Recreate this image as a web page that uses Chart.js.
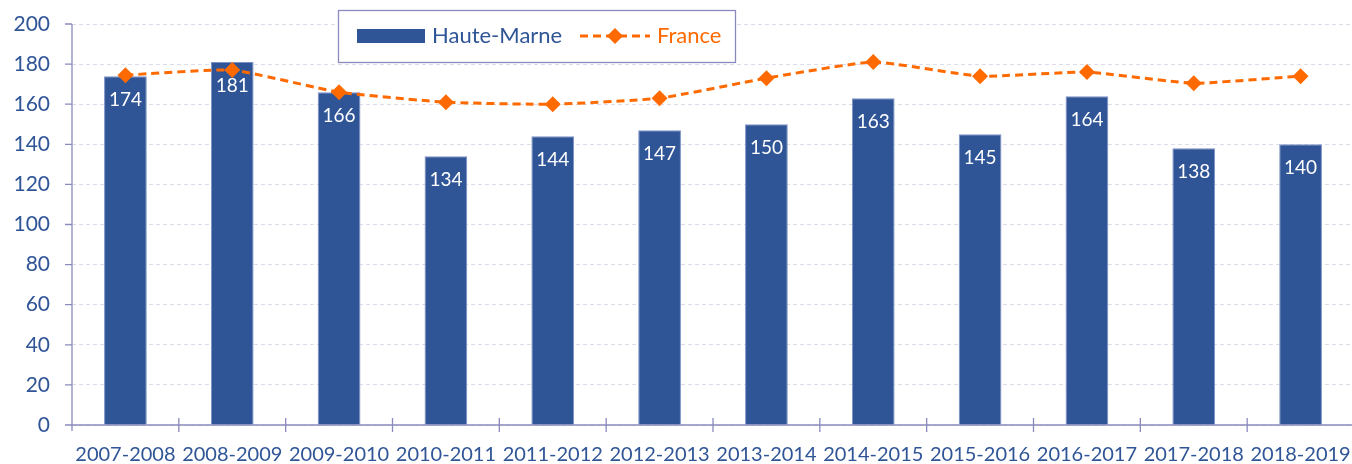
<!DOCTYPE html>
<html>
<head>
<meta charset="utf-8">
<script src="https://cdn.jsdelivr.net/npm/chart.js@4/dist/chart.umd.min.js"></script>
<style>
  html, body { margin: 0; padding: 0; background: #fff; overflow: hidden; }
  #wrap { width: 1362px; height: 464px; }
  canvas { display: block; width: 1362px !important; height: 464px !important; }
</style>
</head>
<body>
<div id="wrap"><canvas id="chart" width="1362" height="464"></canvas></div>
<script>
// Data
const seasons = ["2007-2008","2008-2009","2009-2010","2010-2011","2011-2012","2012-2013",
                 "2013-2014","2014-2015","2015-2016","2016-2017","2017-2018","2018-2019"];
const hauteMarne = [174, 181, 166, 134, 144, 147, 150, 163, 145, 164, 138, 140];
const france = [174.5, 177, 166, 161, 160, 163, 173, 181, 174, 176, 170.5, 174];
const yTicks = [0, 20, 40, 60, 80, 100, 120, 140, 160, 180, 200];

const BLUE = "#2f5597";
const ORANGE = "#ff6a00";
const AXIS = "#8a8abf";
const FONT = "Lato, 'Open Sans', sans-serif";

// white value labels inside the bars
const barLabels = {
  id: "barLabels",
  afterDatasetDraw(chart, args) {
    if (args.meta.type !== "bar") return;
    const { ctx } = chart;
    ctx.save();
    ctx.font = "19px " + FONT;
    ctx.fillStyle = "#ffffff";
    ctx.textAlign = "center";
    ctx.textBaseline = "middle";
    args.meta.data.forEach((bar, i) => {
      ctx.fillText(String(hauteMarne[i]), bar.x, bar.y + 24);
    });
    ctx.restore();
  }
};

// axis lines with crossing tick marks
const axes = {
  id: "axes",
  beforeDatasetsDraw(chart) {
    const { ctx, chartArea, scales } = chart;
    const x = scales.x, y = scales.y;
    ctx.save();
    ctx.strokeStyle = AXIS;
    ctx.lineWidth = 1.3;
    ctx.beginPath();
    ctx.moveTo(chartArea.left, chartArea.top);
    ctx.lineTo(chartArea.left, chartArea.bottom + 6);
    ctx.moveTo(chartArea.left, chartArea.bottom);
    ctx.lineTo(chartArea.right, chartArea.bottom);
    yTicks.forEach(v => {
      const py = y.getPixelForValue(v);
      ctx.moveTo(chartArea.left - 7, py);
      ctx.lineTo(chartArea.left + (v === 0 ? 7 : 0), py);
    });
    for (let i = 1; i <= seasons.length; i++) {
      const px = x.left + (x.width / seasons.length) * i;
      ctx.moveTo(px, chartArea.bottom - 7);
      ctx.lineTo(px, chartArea.bottom + 7);
    }
    ctx.stroke();
    ctx.restore();
  }
};

// boxed legend
const boxLegend = {
  id: "boxLegend",
  afterDraw(chart) {
    const { ctx } = chart;
    ctx.save();
    ctx.fillStyle = "#ffffff";
    ctx.fillRect(338, 10, 397, 52);
    ctx.strokeStyle = AXIS;
    ctx.lineWidth = 1.3;
    ctx.strokeRect(338.5, 10.5, 397, 52);

    ctx.fillStyle = BLUE;
    ctx.fillRect(357, 29, 68, 14);
    ctx.font = "22px " + FONT;
    ctx.textBaseline = "middle";
    ctx.textAlign = "left";
    ctx.fillText(chart.data.datasets[0].label, 432, 36);

    ctx.strokeStyle = ORANGE;
    ctx.lineWidth = 3;
    ctx.setLineDash([8, 5]);
    ctx.beginPath();
    ctx.moveTo(580, 36);
    ctx.lineTo(650, 36);
    ctx.stroke();
    ctx.setLineDash([]);
    ctx.fillStyle = ORANGE;
    ctx.beginPath();
    ctx.moveTo(615, 28);
    ctx.lineTo(623, 36);
    ctx.lineTo(615, 44);
    ctx.lineTo(607, 36);
    ctx.closePath();
    ctx.fill();
    ctx.fillText(chart.data.datasets[1].label, 657, 36);
    ctx.restore();
  }
};

new Chart(document.getElementById("chart"), {
  type: "bar",
  data: {
    labels: seasons,
    datasets: [
      {
        label: "Haute-Marne",
        data: hauteMarne,
        backgroundColor: BLUE,
        borderColor: "#7d91c6",
        borderWidth: 1,
        barPercentage: 0.8,
        categoryPercentage: 0.5,
        order: 1
      },
      {
        type: "line",
        label: "France",
        data: france,
        borderColor: ORANGE,
        backgroundColor: ORANGE,
        borderWidth: 3,
        borderDash: [8, 5],
        pointStyle: "rectRot",
        pointRadius: 8,
        pointBorderWidth: 0,
        tension: 0.15,
        order: 0
      }
    ]
  },
  options: {
    responsive: false,
    animation: false,
    layout: { padding: { top: 24, right: 4, bottom: 0, left: 0 } },
    plugins: { legend: { display: false }, tooltip: { enabled: false } },
    scales: {
      x: {
        grid: { display: false, drawTicks: false },
        border: { display: false },
        ticks: { color: BLUE, font: { family: FONT, size: 20 }, padding: 18, maxRotation: 0, autoSkip: false },
        afterFit(scale) {
          scale.height = 39;
          scale.paddingTop = 0; scale.paddingBottom = 0;
          scale.paddingLeft = 0; scale.paddingRight = 0;
        }
      },
      y: {
        min: 0,
        max: 200,
        grid: { color: "#dcdcea", lineWidth: 1, drawTicks: false },
        border: { display: false, dash: [4, 3] },
        ticks: { stepSize: 20, color: BLUE, font: { family: FONT, size: 21 }, padding: 22 },
        afterFit(scale) { scale.width = 72; scale.paddingTop = 0; scale.paddingBottom = 0; }
      }
    }
  },
  plugins: [axes, barLabels, boxLegend]
});
</script>
</body>
</html>
